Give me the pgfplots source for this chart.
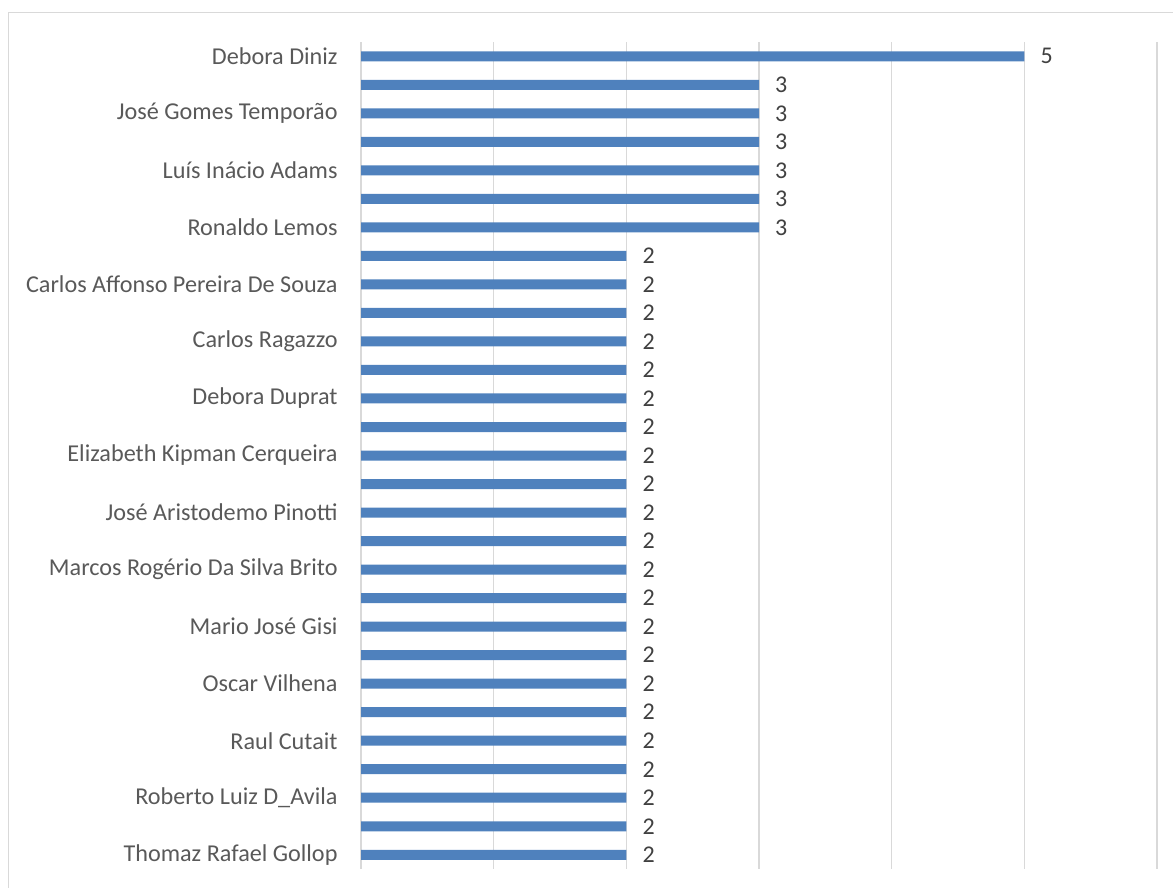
\documentclass[border=0pt]{standalone}
\usepackage{pgfplots}
\pgfplotsset{compat=1.18}
\usepackage{fontspec}
\setmainfont{Carlito}
\definecolor{barblue}{HTML}{4F81BD}
\definecolor{gridgray}{HTML}{D9D9D9}
\definecolor{lblgray}{HTML}{595959}
\definecolor{datagray}{HTML}{404040}
\begin{document}
\begin{tikzpicture}[x=1bp,y=1bp]
\useasboundingbox (0,0) rectangle (1173,-888);
\draw[gridgray, line width=1.3bp] (8.5,-12.5) rectangle (1300,-1000);
\begin{axis}[
 at={(361bp,-869bp)}, anchor=south west, scale only axis,
 width=796bp, height=827bp,
 xbar, bar width=10bp,
 /pgf/number format/assume math mode=true,
 xmin=0, xmax=6, ymin=-0.5, ymax=28.5, y dir=reverse,
 xtick={0,1,2,3,4,5,6}, xticklabels={},
 xmajorgrids, grid style={gridgray, line width=1.4bp},
 ytick={0,2,...,28},
 yticklabels={Debora Diniz, José Gomes Temporão, Luís Inácio Adams, Ronaldo Lemos, Carlos Affonso Pereira De Souza, Carlos Ragazzo, Debora Duprat, Elizabeth Kipman Cerqueira, José Aristodemo Pinotti, Marcos Rogério Da Silva Brito, Mario José Gisi, Oscar Vilhena, Raul Cutait, Roberto Luiz D\_Avila, Thomaz Rafael Gollop},
 axis line style={draw=none}, tick style={draw=none},
 yticklabel style={font=\fontsize{24.2bp}{27bp}\selectfont, text=lblgray, inner sep=0pt, anchor=east, xshift=-19bp},
 nodes near coords,
 nodes near coords style={font=\fontsize{24bp}{27bp}\selectfont, text=datagray, anchor=west, inner sep=0pt, xshift=16bp},
]
\addplot[fill=barblue, draw=none] coordinates {
(5,0) (3,1) (3,2) (3,3) (3,4) (3,5) (3,6)
(2,7) (2,8) (2,9) (2,10) (2,11) (2,12) (2,13) (2,14) (2,15) (2,16) (2,17)
(2,18) (2,19) (2,20) (2,21) (2,22) (2,23) (2,24) (2,25) (2,26) (2,27) (2,28)};
\end{axis}
\end{tikzpicture}
\end{document}
